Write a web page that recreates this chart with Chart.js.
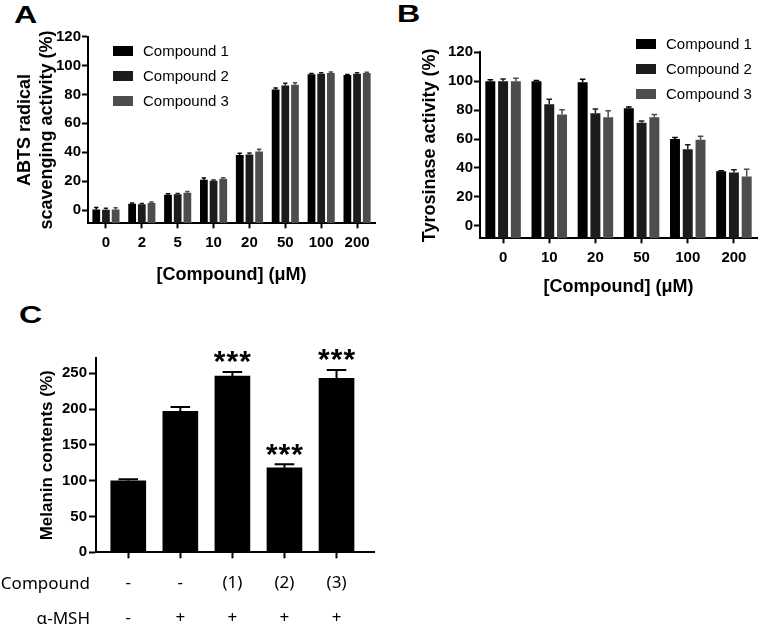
<!DOCTYPE html>
<html>
<head>
<meta charset="utf-8">
<script src="https://cdn.jsdelivr.net/npm/chart.js@4.4.1/dist/chart.umd.min.js"></script>
<style>
  body { margin: 0; background: #fff; width: 762px; height: 628px; position: relative; overflow: hidden;
         font-family: "Liberation Sans", Arial, sans-serif; color: #000; }
  canvas { position: absolute; }
  .letter { position: absolute; font-weight: bold; font-size: 23px; line-height: 1;
            transform: scaleX(1.4); transform-origin: left center; }
  .legend { position: absolute; font-size: 15px; }
  .legend div { height: 25px; display: flex; align-items: center; }
  .legend .box { display: inline-block; width: 20px; height: 10px; margin-right: 10px; }
  .rowhead { position: absolute; left: 0; width: 90px; text-align: right;
             font-family: "Noto Sans", sans-serif; font-size: 17px; line-height: 20px; }
</style>
</head>
<body>
<div class="letter" style="left:14px;top:4px">A</div>
<div class="letter" style="left:397px;top:3px">B</div>
<div class="letter" style="left:19px;top:304px">C</div>

<canvas id="chart-a" width="381" height="300" style="left:0;top:0"></canvas>
<canvas id="chart-b" width="381" height="300" style="left:381px;top:0"></canvas>
<canvas id="chart-c" width="381" height="328" style="left:0;top:300px"></canvas>

<div class="legend" id="legend-a" style="left:113px;top:38px"></div>
<div class="legend" id="legend-b" style="left:636px;top:31px"></div>

<div class="rowhead" style="top:573px">Compound</div>
<div class="rowhead" style="top:608px">α-MSH</div>

<script>
// panel A: ABTS radical scavenging
const abtsDoses = ["0", "2", "5", "10", "20", "50", "100", "200"];
const abtsCompound1 = [0.3, 4.3, 10.5, 20.9, 38.1, 83.4, 94.0, 93.4];
const abtsCompound2 = [0.2, 4.0, 10.9, 20.2, 38.4, 86.2, 94.4, 94.4];
const abtsCompound3 = [0.3, 4.9, 12.0, 21.6, 40.6, 86.8, 94.9, 94.9];
const abtsErr1 = [1.5, 0.6, 0.8, 1.2, 1.2, 1.0, 0.6, 0.5];
const abtsErr2 = [1.0, 0.5, 0.6, 0.5, 1.0, 1.5, 0.7, 0.6];
const abtsErr3 = [1.3, 0.6, 0.8, 0.7, 1.5, 1.4, 0.6, 0.5];

// panel B: tyrosinase activity
const tyrDoses = ["0", "10", "20", "50", "100", "200"];
const tyrCompound1 = [100, 100, 99.3, 81.3, 60.0, 37.7];
const tyrCompound2 = [100, 84.0, 77.8, 71.2, 53.0, 36.8];
const tyrCompound3 = [100, 77.0, 75.0, 75.0, 59.5, 34.0];
const tyrErr1 = [1.0, 0.5, 2.0, 0.8, 1.0, 0.4];
const tyrErr2 = [1.5, 3.5, 3.0, 1.2, 3.0, 2.0];
const tyrErr3 = [2.0, 3.3, 4.5, 2.0, 2.4, 5.0];

// shared y ticks for A and B
const percentTicks = [0, 20, 40, 60, 80, 100, 120];

// panel C: melanin contents
const compoundRow = ["-", "-", "(1)", "(2)", "(3)"];
const mshRow = ["-", "+", "+", "+", "+"];
const melanin = [100, 197, 246, 118, 243];
const melaninErr = [2, 6, 6, 5, 11.5];
const melaninMarks = ["", "", "***", "***", "***"];
const melaninTicks = [0, 50, 100, 150, 200, 250];

const seriesNames = ["Compound 1", "Compound 2", "Compound 3"];
const seriesColors = ["#000000", "#1c1c1c", "#4d4d4d"];

Chart.defaults.font.family = '"Liberation Sans", Arial, sans-serif';
Chart.defaults.color = "#000";

const errorBars = {
    id: "errorBars",
    afterDatasetsDraw(chart) {
        const ctx = chart.ctx;
        const yScale = chart.scales.y;
        chart.data.datasets.forEach((ds, i) => {
            const meta = chart.getDatasetMeta(i);
            meta.data.forEach((bar, j) => {
                const v = meta.controller.getParsed(j).y;
                const top = yScale.getPixelForValue(v + ds.errors[j]);
                const half = bar.width * 0.28;
                ctx.save();
                ctx.strokeStyle = ds.backgroundColor;
                ctx.lineWidth = ds.errorWidth;
                ctx.beginPath();
                ctx.moveTo(bar.x, bar.y);
                ctx.lineTo(bar.x, top);
                ctx.moveTo(bar.x - half, top);
                ctx.lineTo(bar.x + half, top);
                ctx.stroke();
                ctx.restore();
            });
        });
    }
};

const starMarks = {
    id: "starMarks",
    afterDatasetsDraw(chart) {
        const ctx = chart.ctx;
        const yScale = chart.scales.y;
        const meta = chart.getDatasetMeta(0);
        meta.data.forEach((bar, j) => {
            if (!melaninMarks[j]) return;
            const top = yScale.getPixelForValue(melanin[j] + melaninErr[j]);
            ctx.save();
            ctx.fillStyle = "#000";
            ctx.font = 'bold 30px "Liberation Sans", Arial, sans-serif';
            ctx.textAlign = "center";
            ctx.textBaseline = "middle";
            [...melaninMarks[j]].forEach((s, k) => {
                ctx.fillText(s, bar.x + (k - 1) * 12.7, top - 9);
            });
            ctx.restore();
        });
    }
};

function blackGrid(len) {
    return { display: true, drawOnChartArea: false, drawTicks: true, tickLength: len,
             tickWidth: 2, color: "#000", offset: false };
}
const blackBorder = { display: true, width: 2, color: "#000" };
const fixedTicks = list => s => { s.ticks = list.map(v => ({ value: v })); };

function groupedChart(id, labels, series, errs, opts) {
    return new Chart(document.getElementById(id), {
        type: "bar",
        data: {
            labels: labels,
            datasets: series.map((s, i) => ({
                label: seriesNames[i],
                data: s,
                errors: errs[i],
                errorWidth: 1.5,
                base: opts.yMin,
                backgroundColor: seriesColors[i],
                borderWidth: 0,
                categoryPercentage: opts.catPct,
                barPercentage: opts.barPct
            }))
        },
        options: {
            responsive: false,
            animation: false,
            layout: { padding: { left: 0, right: opts.right, top: opts.top, bottom: 0 } },
            plugins: { legend: { display: false }, tooltip: { enabled: false } },
            scales: {
                x: {
                    grid: blackGrid(5),
                    border: blackBorder,
                    ticks: { font: { size: 15, weight: "bold" }, padding: 6, maxRotation: 0, autoSkip: false },
                    title: { display: true, text: "[Compound] (\u03bcM)", font: { size: 18, weight: "bold" },
                             padding: { top: 0, bottom: opts.xTitlePad } },
                    afterFit: s => { s.height = opts.xHeight; }
                },
                y: {
                    min: opts.yMin, max: 120,
                    grid: blackGrid(6),
                    border: blackBorder,
                    ticks: { font: { size: 15, weight: "bold" }, padding: 1 },
                    afterBuildTicks: fixedTicks(percentTicks),
                    title: { display: true, text: opts.yTitle, font: { size: 18, weight: "bold", lineHeight: 1.22 },
                             padding: { top: opts.yTitlePad, bottom: 0 } },
                    afterFit: s => { s.width = opts.yWidth; }
                }
            }
        },
        plugins: [errorBars]
    });
}

const chartA = groupedChart("chart-a", abtsDoses,
    [abtsCompound1, abtsCompound2, abtsCompound3], [abtsErr1, abtsErr2, abtsErr3],
    { yMin: -9.2, top: 36.7, right: 6, xHeight: 76.7, yWidth: 88, catPct: 0.81, barPct: 0.8,
      xTitlePad: 14, yTitlePad: 14, yTitle: ["ABTS radical", "scavenging activity (%)"] });

const chartB = groupedChart("chart-b", tyrDoses,
    [tyrCompound1, tyrCompound2, tyrCompound3], [tyrErr1, tyrErr2, tyrErr3],
    { yMin: -8.7, top: 52.3, right: 5, xHeight: 61.7, yWidth: 99, catPct: 0.83, barPct: 0.78,
      xTitlePad: 2.5, yTitlePad: 38, yTitle: "Tyrosinase activity (%)" });

const chartC = new Chart(document.getElementById("chart-c"), {
    type: "bar",
    data: {
        datasets: [{
            data: melanin.map((v, i) => ({ x: i, y: v })),
            errors: melaninErr,
            errorWidth: 2,
            backgroundColor: "#000000",
            borderWidth: 0,
            barThickness: 35
        }]
    },
    options: {
        responsive: false,
        animation: false,
        layout: { padding: { left: 0, right: 7, top: 58.3, bottom: 0 } },
        plugins: { legend: { display: false }, tooltip: { enabled: false } },
        scales: {
            x: {
                type: "linear",
                min: -0.62, max: 4.72,
                offset: false,
                grid: blackGrid(6),
                border: blackBorder,
                afterBuildTicks: fixedTicks(compoundRow.map((_, i) => i)),
                ticks: {
                    font: { family: '"Noto Sans", sans-serif', size: 17, lineHeight: "35px" },
                    padding: 7.2, maxRotation: 0, autoSkip: false,
                    callback: v => [compoundRow[v], mshRow[v]]
                },
                afterFit: s => { s.height = 75.7; }
            },
            y: {
                min: 0, max: 271,
                grid: blackGrid(7),
                border: blackBorder,
                ticks: { font: { size: 15, weight: "bold" }, padding: 2 },
                afterBuildTicks: fixedTicks(melaninTicks),
                title: { display: true, text: "Melanin contents (%)", font: { size: 17, weight: "bold" },
                         padding: { top: 37.3, bottom: 0 } },
                afterFit: s => { s.width = 96; }
            }
        }
    },
    plugins: [errorBars, starMarks]
});

function buildLegend(id, chart) {
    const box = document.getElementById(id);
    chart.data.datasets.forEach(ds => {
        const row = document.createElement("div");
        const sw = document.createElement("span");
        sw.className = "box";
        sw.style.background = ds.backgroundColor;
        row.appendChild(sw);
        row.appendChild(document.createTextNode(ds.label));
        box.appendChild(row);
    });
}
buildLegend("legend-a", chartA);
buildLegend("legend-b", chartB);
</script>
</body>
</html>
